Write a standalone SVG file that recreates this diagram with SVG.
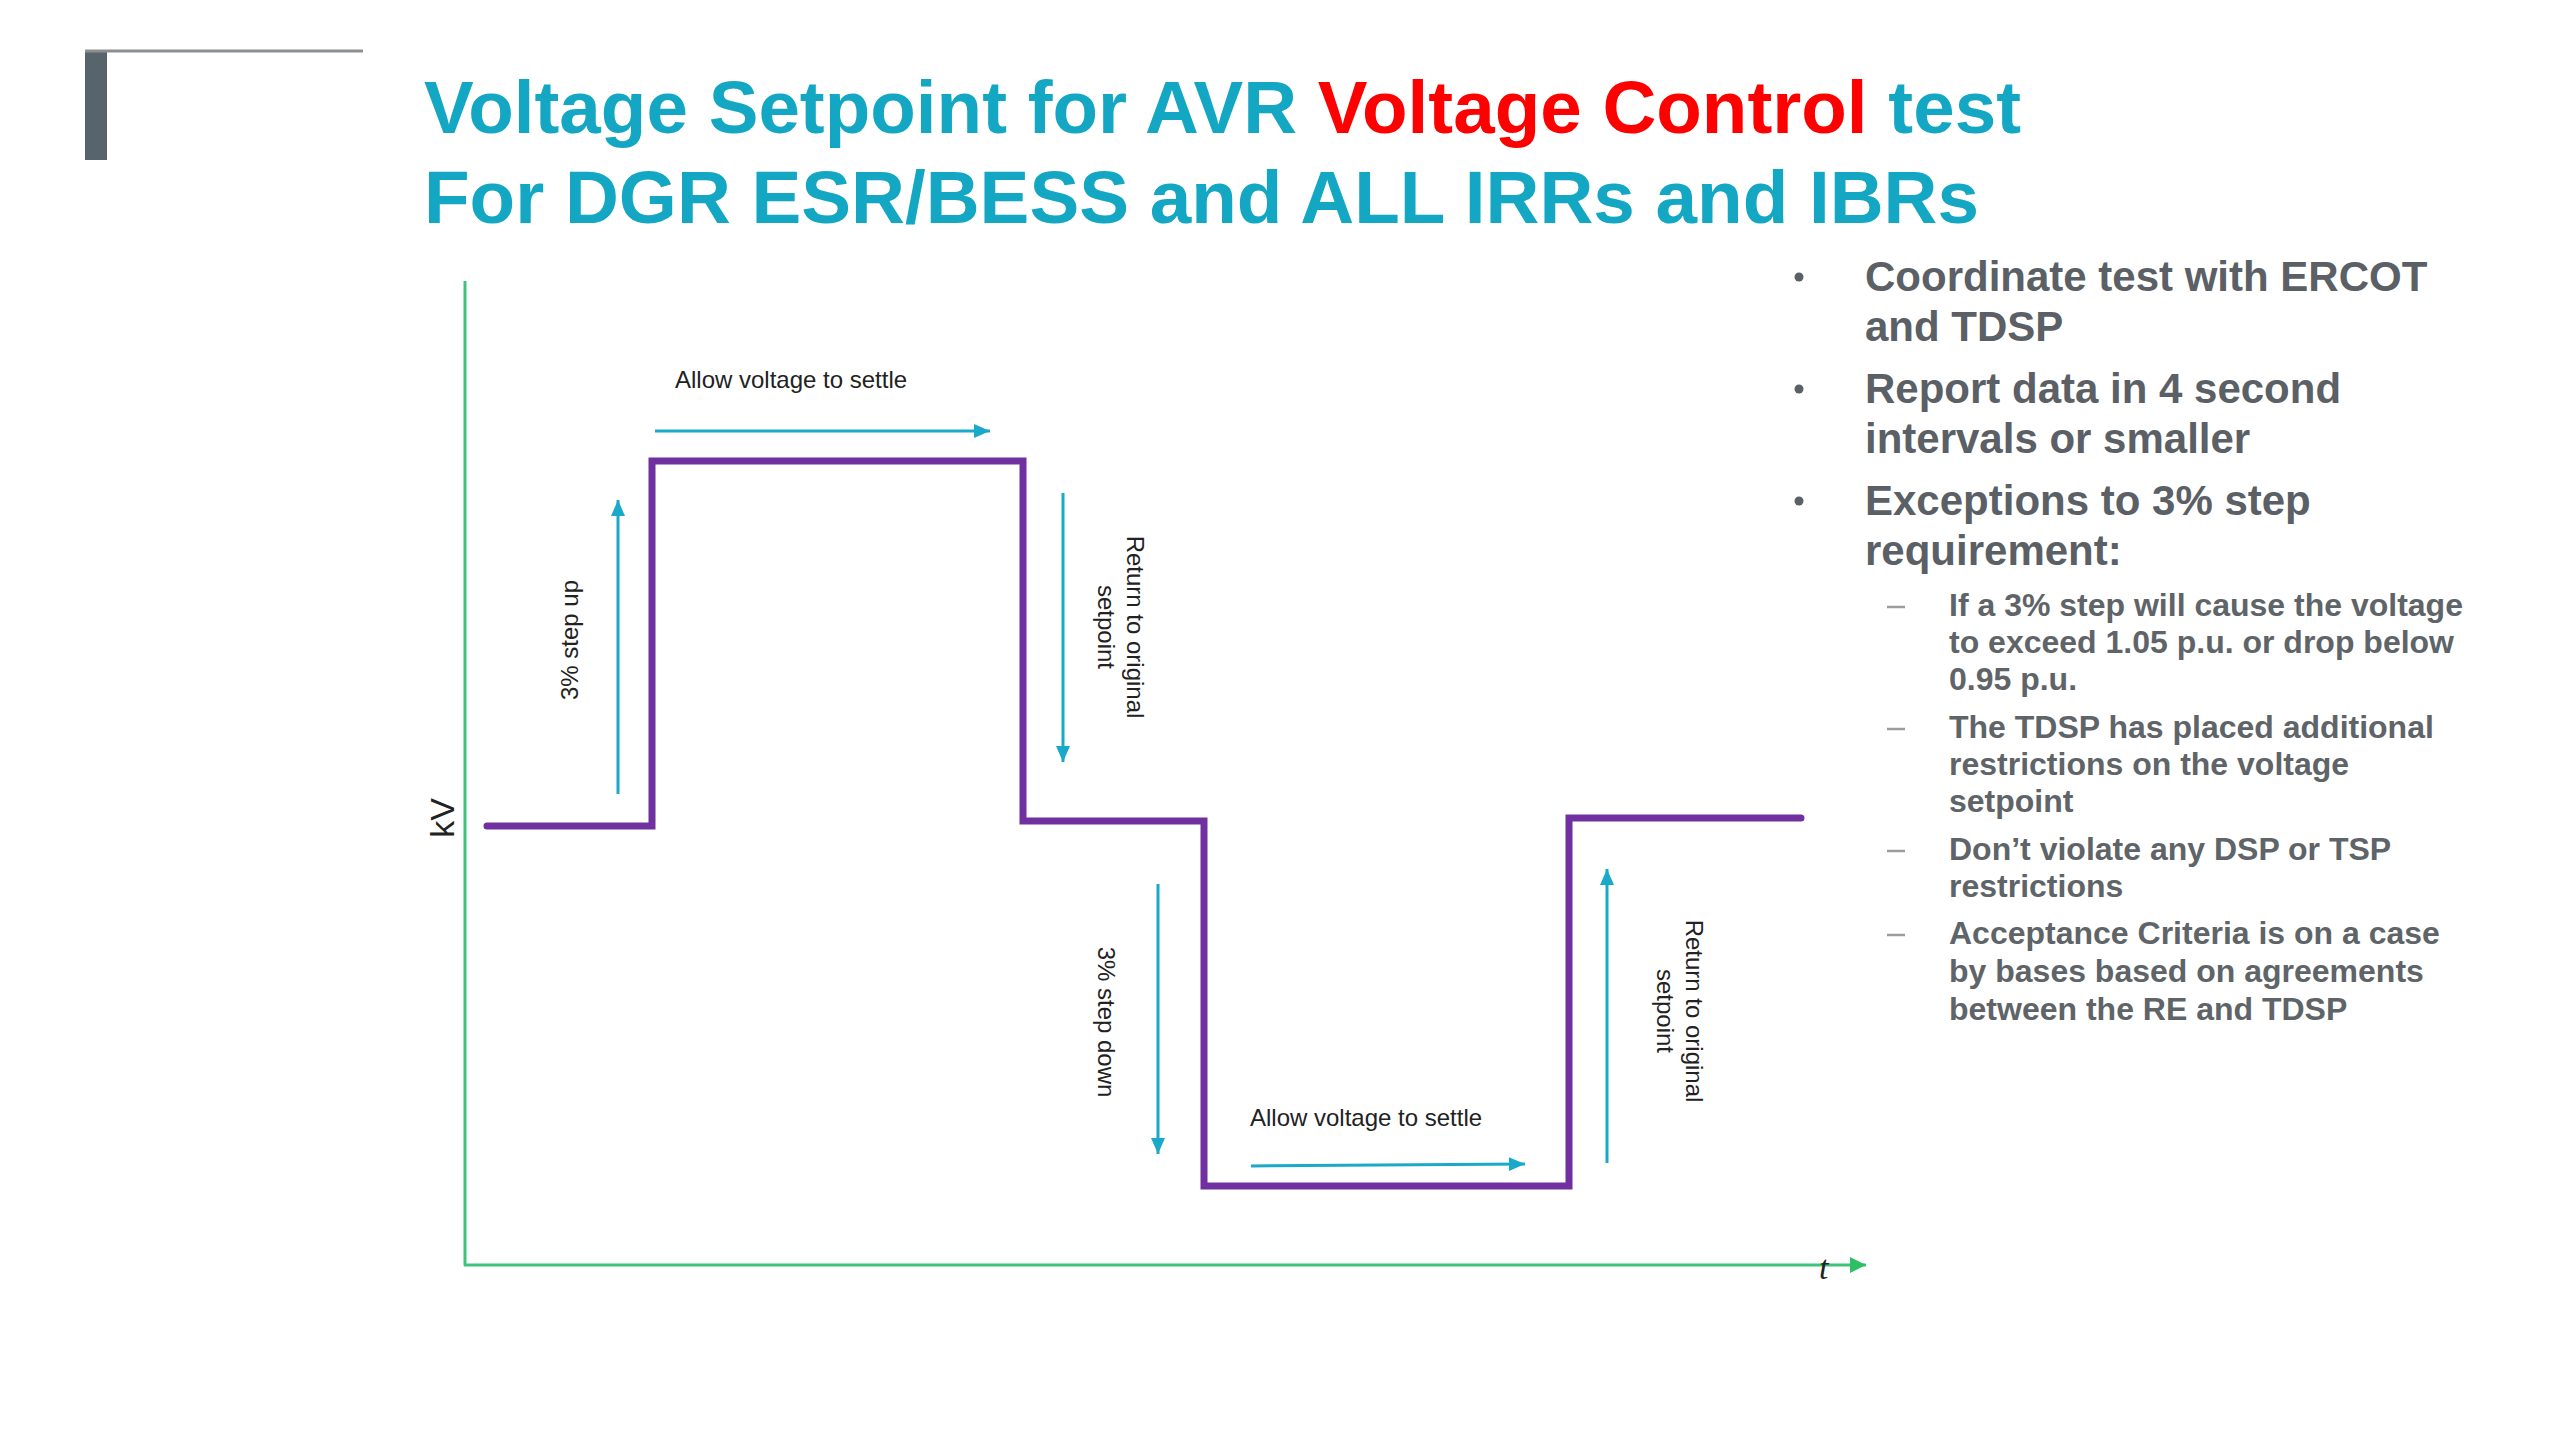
<svg xmlns="http://www.w3.org/2000/svg" width="2560" height="1440" viewBox="0 0 2560 1440">
<style>
.title{font-family:"Liberation Sans",Arial,sans-serif;font-weight:bold;font-size:74px;fill:#14A7C3}
.red{fill:#FF0000}
.lbl{font-family:"Liberation Sans",Arial,sans-serif;font-size:24px;fill:#222}
.main{font-family:"Liberation Sans",Arial,sans-serif;font-weight:bold;font-size:42px;fill:#5A6065}
.sub{font-family:"Liberation Sans",Arial,sans-serif;font-weight:bold;font-size:32px;fill:#5E6468}
.cy{stroke:#1AA9C8;stroke-width:3;fill:none}
.dash{stroke:#9A9C9E;stroke-width:2.5}
</style>
<defs>
<marker id="ah" markerUnits="userSpaceOnUse" markerWidth="20" markerHeight="16" refX="16" refY="7" orient="auto">
<path d="M0,0 L16,7 L0,14 Z" fill="#1AA9C8"/>
</marker>
<marker id="ag" markerUnits="userSpaceOnUse" markerWidth="20" markerHeight="18" refX="16" refY="8" orient="auto">
<path d="M0,0 L16,8 L0,16 Z" fill="#2DBE66"/>
</marker>
</defs>
<rect width="2560" height="1440" fill="#FFFFFF"/>
<g id="bracket">
<rect x="85" y="50" width="22" height="110" fill="#58646C"/>
<line x1="85" y1="51" x2="363" y2="51" stroke="#8C8F92" stroke-width="3"/>
</g>
<g id="title">
<text class="title" x="424" y="133" textLength="1597" lengthAdjust="spacingAndGlyphs">Voltage Setpoint for AVR <tspan class="red">Voltage Control</tspan> test</text>
<text class="title" x="424" y="223" textLength="1555" lengthAdjust="spacingAndGlyphs">For DGR ESR/BESS and ALL IRRs and IBRs</text>
</g>
<g id="axes">
<path d="M465,281 V1265 H1866" fill="none" stroke="#3DC478" stroke-width="3" stroke-linejoin="round" marker-end="url(#ag)"/>
<text transform="translate(454,818) rotate(-90)" style="font-family:'Liberation Sans',Arial,sans-serif;font-size:34px;fill:#222" text-anchor="middle">kV</text>
<text x="1819" y="1279" style="font-family:'Liberation Serif','Times New Roman',serif;font-style:italic;font-size:34px;fill:#222">t</text>
</g>
<g id="voltage-trace">
<path d="M487,826 H652 V461 H1023 V821 H1204 V1186 H1569 V818 H1801" fill="none" stroke="#7030A0" stroke-width="7" stroke-linejoin="miter" stroke-linecap="round"/>
</g>
<g id="connectors">
<line class="cy" x1="618" y1="794" x2="618" y2="500" marker-end="url(#ah)"/>
<line class="cy" x1="655" y1="431" x2="990" y2="431" marker-end="url(#ah)"/>
<line class="cy" x1="1063" y1="493" x2="1063" y2="762" marker-end="url(#ah)"/>
<line class="cy" x1="1158" y1="884" x2="1158" y2="1154" marker-end="url(#ah)"/>
<line class="cy" x1="1251" y1="1166" x2="1525" y2="1164" marker-end="url(#ah)"/>
<line class="cy" x1="1607" y1="1163" x2="1607" y2="869" marker-end="url(#ah)"/>
</g>
<g id="labels">
<text class="lbl" x="675" y="388">Allow voltage to settle</text>
<text class="lbl" transform="translate(578,640) rotate(-90)" text-anchor="middle">3% step up</text>
<text class="lbl" transform="translate(1127,627) rotate(90)" text-anchor="middle">Return to original</text>
<text class="lbl" transform="translate(1098,627) rotate(90)" text-anchor="middle">setpoint</text>
<text class="lbl" transform="translate(1098,1022) rotate(90)" text-anchor="middle">3% step down</text>
<text class="lbl" x="1250" y="1126">Allow voltage to settle</text>
<text class="lbl" transform="translate(1686,1011) rotate(90)" text-anchor="middle">Return to original</text>
<text class="lbl" transform="translate(1657,1011) rotate(90)" text-anchor="middle">setpoint</text>
</g>
<g id="bullets">
<circle cx="1799" cy="277" r="4.5" fill="#5A6065"/>
<circle cx="1799" cy="389" r="4.5" fill="#5A6065"/>
<circle cx="1799" cy="501" r="4.5" fill="#5A6065"/>
<text class="main" x="1865" y="291">Coordinate test with ERCOT</text>
<text class="main" x="1865" y="341">and TDSP</text>
<text class="main" x="1865" y="403">Report data in 4 second</text>
<text class="main" x="1865" y="453">intervals or smaller</text>
<text class="main" x="1865" y="515">Exceptions to 3% step</text>
<text class="main" x="1865" y="565">requirement:</text>
<line class="dash" x1="1887" y1="607" x2="1905" y2="607"/>
<line class="dash" x1="1887" y1="729" x2="1905" y2="729"/>
<line class="dash" x1="1887" y1="851" x2="1905" y2="851"/>
<line class="dash" x1="1887" y1="935" x2="1905" y2="935"/>
<text class="sub" x="1949" y="616">If a 3% step will cause the voltage</text>
<text class="sub" x="1949" y="653">to exceed 1.05 p.u. or drop below</text>
<text class="sub" x="1949" y="690">0.95 p.u.</text>
<text class="sub" x="1949" y="738">The TDSP has placed additional</text>
<text class="sub" x="1949" y="775">restrictions on the voltage</text>
<text class="sub" x="1949" y="812">setpoint</text>
<text class="sub" x="1949" y="860">Don’t violate any DSP or TSP</text>
<text class="sub" x="1949" y="897">restrictions</text>
<text class="sub" x="1949" y="944">Acceptance Criteria is on a case</text>
<text class="sub" x="1949" y="982">by bases based on agreements</text>
<text class="sub" x="1949" y="1020">between the RE and TDSP</text>
</g>
</svg>
